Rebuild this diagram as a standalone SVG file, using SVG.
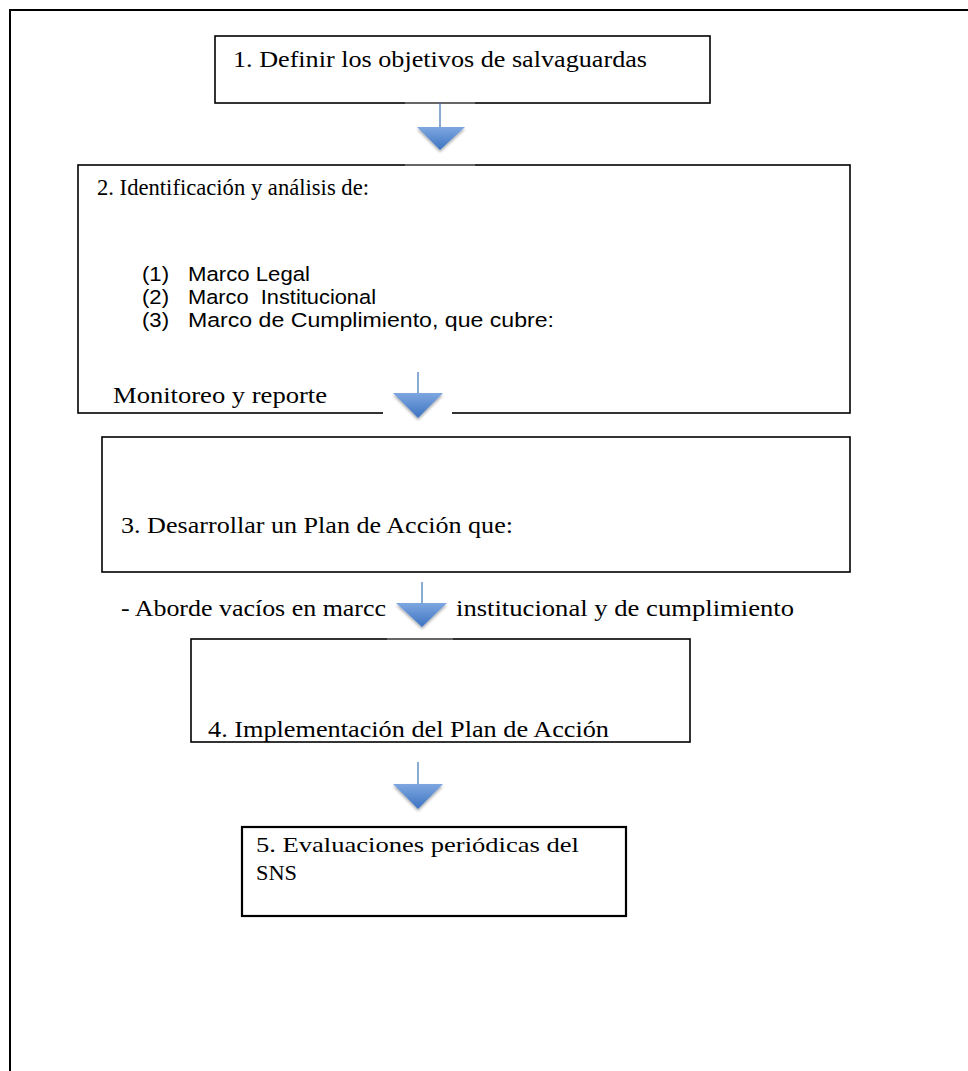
<svg xmlns="http://www.w3.org/2000/svg" width="968" height="1071" viewBox="0 0 968 1071">
<style>
.box{fill:#fff;stroke:#000;stroke-width:1.6}
.gap{stroke:#fff;stroke-width:2.5}
.gapg{stroke:#9a9a9a;stroke-width:1.2}
.ser{font-family:"Liberation Serif","DejaVu Serif",serif;font-size:24px;fill:#000}
.ser5{font-family:"Liberation Serif","DejaVu Serif",serif;font-size:22px;fill:#000}
.sans{font-family:"Liberation Sans","DejaVu Sans",sans-serif;font-size:20.5px;fill:#000}
.stem{stroke:#4a7ebb;stroke-width:1.3}
.tri{fill:url(#bg);filter:url(#sh)}
</style>
<defs>
<linearGradient id="bg" x1="0" y1="0" x2="0" y2="1">
<stop offset="0" stop-color="#7ea7e0"/>
<stop offset="1" stop-color="#3d73c2"/>
</linearGradient>
<filter id="sh" x="-30%" y="-30%" width="160%" height="180%">
<feGaussianBlur in="SourceAlpha" stdDeviation="1.5"/>
<feOffset dx="0" dy="2" result="b"/>
<feComponentTransfer><feFuncA type="linear" slope="0.35"/></feComponentTransfer>
<feMerge><feMergeNode/><feMergeNode in="SourceGraphic"/></feMerge>
</filter>
</defs>
<rect width="968" height="1071" fill="#fff"/>
<g id="frame">
<path d="M10 1071 V10 H968" fill="none" stroke="#000" stroke-width="2"/>
</g>
<g id="node1">
<rect class="box" x="215" y="36" width="495" height="67"/>
<line class="gapg" x1="405" y1="103" x2="475" y2="103"/>
<text class="ser" x="233" y="67" textLength="414" lengthAdjust="spacingAndGlyphs">1. Definir los objetivos de salvaguardas</text>
</g>
<g id="node2">
<rect class="box" x="78" y="165" width="772" height="248"/>
<line class="gap" x1="383" y1="413" x2="452" y2="413"/>
<line class="gapg" x1="405" y1="165" x2="475" y2="165"/>
<text class="ser" x="97" y="195" textLength="272" lengthAdjust="spacingAndGlyphs">2. Identificación y análisis de:</text>
<text class="sans" x="142" y="281" textLength="27" lengthAdjust="spacingAndGlyphs">(1)</text>
<text class="sans" x="188" y="281" textLength="122" lengthAdjust="spacingAndGlyphs">Marco Legal</text>
<text class="sans" x="142" y="304" textLength="27" lengthAdjust="spacingAndGlyphs">(2)</text>
<text class="sans" x="188" y="304" textLength="188" lengthAdjust="spacingAndGlyphs" xml:space="preserve">Marco  Institucional</text>
<text class="sans" x="142" y="327" textLength="27" lengthAdjust="spacingAndGlyphs">(3)</text>
<text class="sans" x="188" y="327" textLength="366" lengthAdjust="spacingAndGlyphs">Marco de Cumplimiento, que cubre:</text>
<text class="ser" x="113" y="403" textLength="214" lengthAdjust="spacingAndGlyphs">Monitoreo y reporte</text>
</g>
<g id="node3">
<rect class="box" x="102" y="437" width="748" height="135"/>
<text class="ser" x="121" y="533" textLength="392" lengthAdjust="spacingAndGlyphs">3. Desarrollar un Plan de Acción que:</text>
</g>
<g id="label3">
<text class="ser" x="121" y="616" textLength="265" lengthAdjust="spacingAndGlyphs">- Aborde vacíos en marcc</text>
<text class="ser" x="456" y="616" textLength="338" lengthAdjust="spacingAndGlyphs">institucional y de cumplimiento</text>
</g>
<g id="node4">
<rect class="box" x="191" y="639" width="499" height="103"/>
<line class="gapg" x1="387" y1="639" x2="453" y2="639"/>
<text class="ser" x="208" y="737" textLength="401" lengthAdjust="spacingAndGlyphs">4. Implementación del Plan de Acción</text>
</g>
<g id="node5">
<rect class="box" x="242" y="827" width="384" height="89" style="stroke-width:2.2"/>
<text class="ser5" x="256" y="852" textLength="323" lengthAdjust="spacingAndGlyphs">5. Evaluaciones periódicas del</text>
<text class="ser5" x="256" y="880" textLength="41" lengthAdjust="spacingAndGlyphs">SNS</text>
</g>
<g id="connectors">
<line class="stem" x1="440" y1="103" x2="440" y2="128"/>
<polygon class="tri" points="417,127 465,127 440,150"/>
<line class="stem" x1="418" y1="372" x2="418" y2="394"/>
<polygon class="tri" points="393,393 443,393 418,418"/>
<line class="stem" x1="422" y1="582" x2="422" y2="604"/>
<polygon class="tri" points="396,603 447,603 422,627"/>
<line class="stem" x1="418" y1="762" x2="418" y2="785"/>
<polygon class="tri" points="393,784 443,784 418,809"/>
</g>
</svg>
